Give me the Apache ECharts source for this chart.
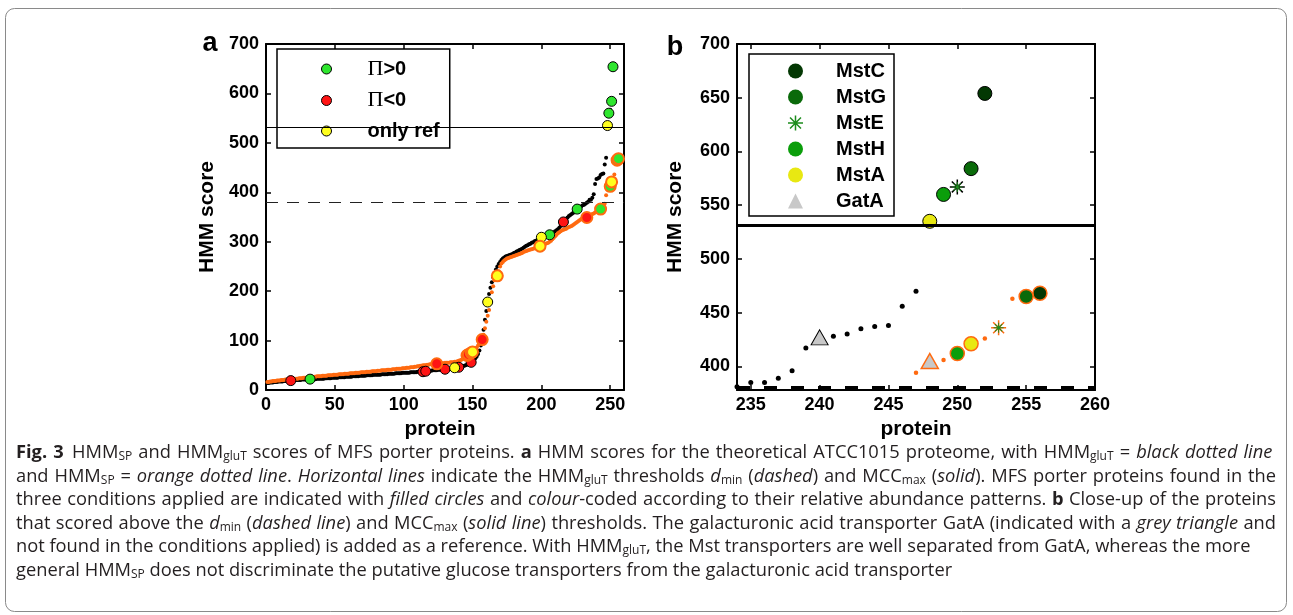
<!DOCTYPE html>
<html>
<head>
<meta charset="utf-8">
<script src="https://cdn.jsdelivr.net/npm/echarts@6.0.0/dist/echarts.min.js"></script>
<style>
html, body { margin: 0; padding: 0; background: #fff; }
#chart { width: 1293px; height: 615px; }
</style>
</head>
<body>
<div id="chart"></div>
<script>
// HMM_gluT score per protein (black dots), proteins 1..252, sorted
var gluT = [
    14, 14, 15, 15, 15, 16, 16, 16, 17, 17,
    17, 17, 18, 18, 18, 18, 19, 19, 19, 19,
    20, 20, 20, 20, 20, 21, 21, 21, 21, 21,
    21, 22, 22, 22, 22, 22, 23, 23, 23, 23,
    23, 23, 24, 24, 24, 24, 24, 25, 25, 25,
    25, 25, 26, 26, 26, 26, 26, 27, 27, 27,
    27, 27, 28, 28, 28, 28, 28, 29, 29, 29,
    29, 29, 30, 30, 30, 30, 30, 31, 31, 31,
    31, 31, 31, 32, 32, 32, 32, 32, 33, 33,
    33, 33, 33, 34, 34, 34, 34, 34, 35, 35,
    35, 35, 35, 35, 36, 36, 36, 36, 36, 37,
    37, 37, 37, 37, 38, 38, 38, 39, 39, 39,
    40, 40, 40, 40, 41, 41, 41, 41, 42, 42,
    42, 43, 43, 43, 44, 44, 45, 45, 46, 46,
    47, 47, 48, 49, 50, 51, 52, 54, 56, 58,
    61, 64, 68, 73, 80, 90, 104, 122, 142, 160,
    178, 194, 207, 218, 228, 237, 244, 250, 255, 259,
    263, 266, 268, 270, 271, 272, 273, 274, 275, 277,
    278, 280, 281, 283, 284, 286, 288, 290, 292, 293,
    295, 296, 298, 299, 301, 302, 303, 305, 307, 309,
    310, 311, 312, 313, 313, 314, 315, 317, 319, 321,
    323, 325, 328, 332, 336, 340, 343, 346, 349, 352,
    354, 356, 358, 360, 363, 366, 368, 370, 372, 374,
    375, 377, 379, 381, 385, 385, 389, 396, 417, 427,
    428, 430, 435, 437, 438, 456, 470, 535, 560, 567,
    584, 654
];
// HMM_SP score per protein (orange dots), proteins 1..256, sorted
var hmmSP = [
    16, 16, 17, 17, 18, 18, 18, 19, 19, 19,
    20, 20, 20, 21, 21, 21, 22, 22, 22, 23,
    23, 23, 23, 24, 24, 24, 25, 25, 25, 26,
    26, 26, 26, 27, 27, 27, 28, 28, 28, 28,
    29, 29, 29, 29, 30, 30, 30, 30, 31, 31,
    31, 31, 32, 32, 32, 32, 33, 33, 33, 33,
    34, 34, 34, 34, 35, 35, 35, 35, 36, 36,
    36, 36, 37, 37, 37, 37, 38, 38, 38, 38,
    39, 39, 39, 40, 40, 40, 40, 41, 41, 41,
    41, 42, 42, 42, 43, 43, 43, 43, 44, 44,
    44, 45, 45, 45, 46, 46, 46, 47, 47, 48,
    48, 49, 49, 50, 50, 50, 51, 51, 52, 52,
    52, 52, 53, 53, 53, 54, 54, 54, 54, 55,
    55, 55, 55, 56, 56, 56, 57, 57, 58, 59,
    60, 61, 63, 65, 68, 70, 72, 74, 75, 77,
    80, 83, 86, 90, 94, 98, 102, 112, 125, 138,
    150, 162, 180, 198, 210, 222, 228, 231, 240, 250,
    256, 259, 262, 264, 266, 267, 268, 269, 270, 271,
    272, 273, 274, 275, 276, 277, 279, 280, 281, 282,
    283, 284, 285, 286, 287, 288, 289, 290, 291, 292,
    293, 295, 296, 297, 298, 300, 302, 305, 308, 311,
    314, 317, 319, 321, 323, 324, 325, 326, 328, 330,
    331, 332, 334, 336, 338, 340, 342, 344, 346, 347,
    348, 349, 349, 350, 352, 354, 356, 357, 359, 361,
    363, 364, 366, 369, 373, 377, 394, 405, 406, 412,
    421, 426, 436, 463, 465, 468
];

// thresholds
var dMin = 380;
var mccMax = 532;

// panel a: proteins found in the three conditions (protein number on each curve)
var posOnGluT = [32, 206, 226, 249, 251, 252];
var posOnSP = [243, 250, 255, 256];
var negOnGluT = [18, 114, 116, 130, 140, 149, 216];
var negOnSP = [124, 146, 147, 149, 157, 233];
var refOnGluT = [137, 161, 200, 248];
var refOnSP = [150, 168, 199, 251];

// panel b: transporters, protein number on the gluT and on the SP curve
var transNames = ['MstC', 'MstG', 'MstE', 'MstH', 'MstA', 'GatA'];
var transOnGluT = [252, 251, 250, 249, 248, 240];
var transOnSP = [256, 255, 253, 250, 251, 248];

// tick labels
var ticksAX = [0, 50, 100, 150, 200, 250];
var ticksAY = [0, 100, 200, 300, 400, 500, 600, 700];
var ticksBX = [235, 240, 245, 250, 255, 260];
var ticksBY = [400, 450, 500, 550, 600, 650, 700];

var ORANGE = '#ff6a10';
var GREEN = '#2ee62e';
var RED = '#ff1414';
var YELLOW = '#ffff1e';
var transColors = ['#033803', '#0a6a0a', '#1d8c1d', '#0b9e0b', '#e8e812', '#c8c8c8'];
var STAR = 'path://M-1,-10L1,-10L1,10L-1,10Z M-10,-1L10,-1L10,1L-10,1Z M-6.6,-8L8,6.6L6.6,8L-8,-6.6Z M6.6,-8L8,-6.6L-6.6,8L-8,6.6Z';
var AX_FONT = '"Liberation Sans", Arial, sans-serif';
var CAP_FONT = '"Open Sans", sans-serif';
var CAP_SIZE = 18.3;

var ptsOn = function (arr, idx) {
    return idx.map(function (i) { return [i, arr[i - 1]]; });
};
var allPts = function (arr) {
    return arr.map(function (v, i) { return [i + 1, v]; });
};

var xAxisOf = function (grid, pos, min, max, ticks, showLabel) {
    return {
        type: 'value', gridIndex: grid, position: pos, min: min, max: max,
        axisLine: {show: true, onZero: false, lineStyle: {color: '#000', width: 2}},
        axisTick: {show: true, inside: true, length: 5, customValues: ticks, lineStyle: {color: '#000', width: 1.5}},
        axisLabel: {show: showLabel, customValues: ticks, margin: 6, color: '#000',
            fontFamily: AX_FONT, fontWeight: 'bold', fontSize: 18},
        splitLine: {show: false}
    };
};
var yAxisOf = function (grid, pos, min, max, ticks, showLabel) {
    var ax = xAxisOf(grid, pos, min, max, ticks, showLabel);
    ax.axisLabel.margin = 7;
    return ax;
};

var xAxes = [
    xAxisOf(0, 'bottom', 0, 260, ticksAX, true),
    xAxisOf(0, 'top', 0, 260, ticksAX, false),
    xAxisOf(1, 'bottom', 234, 260, ticksBX, true),
    xAxisOf(1, 'top', 234, 260, ticksBX, false)
];
var yAxes = [
    yAxisOf(0, 'left', 0, 700, ticksAY, true),
    yAxisOf(0, 'right', 0, 700, ticksAY, false),
    yAxisOf(1, 'left', 378, 700, ticksBY, true),
    yAxisOf(1, 'right', 378, 700, ticksBY, false)
];
[xAxes[0], xAxes[2]].forEach(function (ax, k) {
    ax.name = 'protein';
    ax.nameLocation = 'middle';
    ax.nameGap = 28;
    ax.nameTextStyle = {color: '#000', fontFamily: AX_FONT, fontWeight: 'bold', fontSize: 21,
        padding: k === 0 ? [0, 10, 0, 0] : 0};
});
[yAxes[0], yAxes[2]].forEach(function (ax, k) {
    ax.name = 'HMM score';
    ax.nameLocation = 'middle';
    ax.nameGap = k === 0 ? 48 : 51;
    ax.nameTextStyle = {color: '#000', fontFamily: AX_FONT, fontWeight: 'bold', fontSize: 21};
});

var hLine = function (value, style) {
    return {yAxis: value, lineStyle: style};
};

var series = [];
// panel a curves
series.push({
    type: 'scatter', xAxisIndex: 0, yAxisIndex: 0, symbolSize: 4,
    itemStyle: {color: '#000', opacity: 1}, data: allPts(gluT),
    markLine: {
        silent: true, symbol: ['none', 'none'], label: {show: false},
        data: [
            hLine(dMin, {color: '#222', width: 1, type: [12, 9]}),
            hLine(mccMax, {color: '#000', width: 1, type: 'solid'})
        ]
    }
});
series.push({
    type: 'scatter', xAxisIndex: 0, yAxisIndex: 0, symbolSize: 4,
    itemStyle: {color: ORANGE, opacity: 1}, data: allPts(hmmSP)
});
// panel a found proteins
var aGroups = [
    ['Π>0', GREEN, posOnGluT, posOnSP],
    ['Π<0', RED, negOnGluT, negOnSP],
    ['only ref', YELLOW, refOnGluT, refOnSP]
];
aGroups.forEach(function (g) {
    series.push({
        name: g[0], type: 'scatter', xAxisIndex: 0, yAxisIndex: 0, symbolSize: 10,
        itemStyle: {color: g[1], borderColor: '#000', borderWidth: 1, opacity: 1},
        data: ptsOn(gluT, g[2])
    });
});
aGroups.forEach(function (g) {
    series.push({
        name: g[0], type: 'scatter', xAxisIndex: 0, yAxisIndex: 0, symbolSize: 11,
        itemStyle: {color: g[1], borderColor: ORANGE, borderWidth: 2, opacity: 1},
        data: ptsOn(hmmSP, g[3])
    });
});

// panel b curves
series.push({
    type: 'scatter', xAxisIndex: 2, yAxisIndex: 2, symbolSize: 5,
    itemStyle: {color: '#000', opacity: 1}, data: allPts(gluT),
    markLine: {
        silent: true, symbol: ['none', 'none'], label: {show: false},
        data: [
            hLine(dMin, {color: '#000', width: 4, type: [13, 14]}),
            hLine(mccMax - 1, {color: '#000', width: 3, type: 'solid'})
        ]
    }
});
series.push({
    type: 'scatter', xAxisIndex: 2, yAxisIndex: 2, symbolSize: 4.5,
    itemStyle: {color: ORANGE, opacity: 1}, data: allPts(hmmSP)
});
// panel b transporters
transNames.forEach(function (name, i) {
    var color = transColors[i];
    if (name === 'MstE') {
        series.push({
            name: name + ' edge', type: 'scatter', xAxisIndex: 2, yAxisIndex: 2,
            symbol: STAR, symbolSize: 15, itemStyle: {color: '#000', opacity: 1},
            data: ptsOn(gluT, [transOnGluT[i]])
        });
        series.push({
            name: name + ' edge', type: 'scatter', xAxisIndex: 2, yAxisIndex: 2,
            symbol: STAR, symbolSize: 15, itemStyle: {color: ORANGE, opacity: 1},
            data: ptsOn(hmmSP, [transOnSP[i]])
        });
        series.push({
            name: name, type: 'scatter', xAxisIndex: 2, yAxisIndex: 2,
            symbol: STAR, symbolSize: 10, itemStyle: {color: color, opacity: 1},
            data: ptsOn(gluT, [transOnGluT[i]]).concat(ptsOn(hmmSP, [transOnSP[i]]))
        });
        return;
    }
    var sym = name === 'GatA' ? 'triangle' : 'circle';
    var size = name === 'GatA' ? [17, 15] : 14;
    series.push({
        name: name, type: 'scatter', xAxisIndex: 2, yAxisIndex: 2,
        symbol: sym, symbolSize: size,
        itemStyle: {color: color, borderColor: '#000', borderWidth: 1, opacity: 1},
        data: ptsOn(gluT, [transOnGluT[i]])
    });
    series.push({
        name: name, type: 'scatter', xAxisIndex: 2, yAxisIndex: 2,
        symbol: sym, symbolSize: size,
        itemStyle: {color: color, borderColor: ORANGE, borderWidth: 1.5, opacity: 1},
        data: ptsOn(hmmSP, [transOnSP[i]])
    });
});

// caption text, one string per printed line
var capLines = [
    '{b|Fig. 3}  HMM{s|SP} and HMM{s|gluT} scores of MFS porter proteins. {b|a} HMM scores for the theoretical ATCC1015 proteome, with HMM{s|gluT} = {i|black dotted line}',
    'and HMM{s|SP} = {i|orange dotted line}. {i|Horizontal lines} indicate the HMM{s|gluT} thresholds {i|d}{s|min} ({i|dashed}) and MCC{s|max} ({i|solid}). MFS porter proteins found in the',
    'three conditions applied are indicated with {i|filled circles} and {i|colour}-coded according to their relative abundance patterns. {b|b} Close-up of the proteins',
    'that scored above the {i|d}{s|min} ({i|dashed line}) and MCC{s|max} ({i|solid line}) thresholds. The galacturonic acid transporter GatA (indicated with a {i|grey triangle} and',
    'not found in the conditions applied) is added as a reference. With HMM{s|gluT}, the Mst transporters are well separated from GatA, whereas the more',
    'general HMM{s|SP} does not discriminate the putative glucose transporters from the galacturonic acid transporter'
];
var capY = [453, 477, 500, 524, 547, 571];
var capJustify = [true, true, true, true, false, false];
var CAP_LEFT = 16, CAP_RIGHT = 1276;

var capStyles = {
    n: {font: CAP_SIZE + 'px ' + CAP_FONT, lh: 20},
    b: {font: 'bold ' + CAP_SIZE + 'px ' + CAP_FONT, lh: 20},
    i: {font: 'italic ' + CAP_SIZE + 'px ' + CAP_FONT, lh: 20},
    s: {font: Math.round(CAP_SIZE * 0.66) + 'px ' + CAP_FONT, lh: 8}
};
var capRich = {};
Object.keys(capStyles).forEach(function (k) {
    capRich[k] = {font: capStyles[k].font, lineHeight: capStyles[k].lh, fill: '#231f20'};
});
capRich.s.verticalAlign = 'bottom';

var measureCtx = document.createElement('canvas').getContext('2d');
var textWidth = function (st, txt) {
    measureCtx.font = capStyles[st].font;
    return measureCtx.measureText(txt).width;
};
// split a marked-up line into words, each a list of [style, text];
// a double space gives an empty word, which is kept as extra room
var splitWords = function (line) {
    var re = /\{(\w)\|([^}]*)\}|([^{]+)/g, m, words = [], cur = [];
    while ((m = re.exec(line)) !== null) {
        var st = m[1] || 'n', txt = m[1] ? m[2] : m[3];
        var parts = txt.split(' ');
        parts.forEach(function (p, j) {
            if (j > 0) {
                words.push(cur);
                cur = [];
            }
            if (p) { cur.push([st, p]); }
        });
    }
    words.push(cur);
    return words.filter(function (w, j) { return w.length || (j > 0 && j < words.length - 1); });
};

var graphics = [
    {type: 'rect', shape: {x: 5.5, y: 8.5, width: 1281, height: 603, r: 9},
        style: {fill: 'none', stroke: '#8a8a8a', lineWidth: 1}, silent: true, z: 0},
    {type: 'text', x: 210, y: 44, style: {text: 'a', font: 'bold 27px ' + AX_FONT, fill: '#000',
        textAlign: 'center', align: 'center', textVerticalAlign: 'middle', verticalAlign: 'middle'}},
    {type: 'text', x: 675, y: 47.5, style: {text: 'b', font: 'bold 27px ' + AX_FONT, fill: '#000',
        textAlign: 'center', align: 'center', textVerticalAlign: 'middle', verticalAlign: 'middle'}}
];
capLines.forEach(function (line, k) {
    var words = splitWords(line);
    var widths = words.map(function (w) {
        return w.reduce(function (s, seg) { return s + textWidth(seg[0], seg[1]); }, 0);
    });
    var total = widths.reduce(function (a, b) { return a + b; }, 0);
    var gap = capJustify[k] ? (CAP_RIGHT - CAP_LEFT - total) / (words.length - 1) : textWidth('n', ' ');
    var x = CAP_LEFT;
    words.forEach(function (w, j) {
        if (w.length) {
            graphics.push({
                type: 'text', x: x, y: capY[k], silent: true,
                style: {
                    text: w.map(function (seg) { return '{' + seg[0] + '|' + seg[1] + '}'; }).join(''),
                    rich: capRich, font: capStyles.n.font, fill: '#231f20',
                    textVerticalAlign: 'middle', verticalAlign: 'middle'
                }
            });
        }
        x += widths[j] + (w.length ? gap : gap * 0.4);
    });
});

var legendRich = {
    gap: {width: 31},
    pi: {fontFamily: '"Liberation Serif", serif', fontSize: 22, lineHeight: 22, color: '#000'},
    t: {fontFamily: AX_FONT, fontWeight: 'bold', fontSize: 20, lineHeight: 22, color: '#000'}
};

var option = {
    animation: false,
    backgroundColor: '#fff',
    grid: [
        {left: 266, top: 44, width: 358, height: 346},
        {left: 737, top: 44, width: 358, height: 346}
    ],
    xAxis: xAxes,
    yAxis: yAxes,
    legend: [
        {
            data: ['Π>0', 'Π<0', 'only ref'],
            orient: 'vertical', left: 277, top: 49,
            itemWidth: 10, itemHeight: 10, itemGap: 9.5,
            padding: [9, 10, 7, 44],
            borderColor: '#000', borderWidth: 1.5, backgroundColor: '#fff',
            selectedMode: false, icon: 'circle',
            itemStyle: {borderColor: '#000', borderWidth: 1},
            textStyle: {rich: legendRich},
            formatter: function (name) {
                if (name.charAt(0) === 'Π') {
                    return '{gap| }{pi|Π}{t|' + name.slice(1) + '}';
                }
                return '{gap| }{t|' + name + '}';
            }
        },
        {
            data: transNames,
            orient: 'vertical', left: 749, top: 54,
            itemWidth: 15, itemHeight: 15, itemGap: 6,
            padding: [7, 8, 5, 39],
            borderColor: '#000', borderWidth: 1.5, backgroundColor: '#fff',
            selectedMode: false,
            itemStyle: {borderWidth: 0},
            textStyle: {rich: {
                gap: {width: 28},
                t: {fontFamily: AX_FONT, fontWeight: 'bold', fontSize: 20, lineHeight: 20, color: '#000'}
            }},
            formatter: function (name) { return '{gap| }{t|' + name + '}'; }
        }
    ],
    graphic: graphics,
    series: series
};

var chart = echarts.init(document.getElementById('chart'));
chart.setOption(option);
</script>
</body>
</html>
